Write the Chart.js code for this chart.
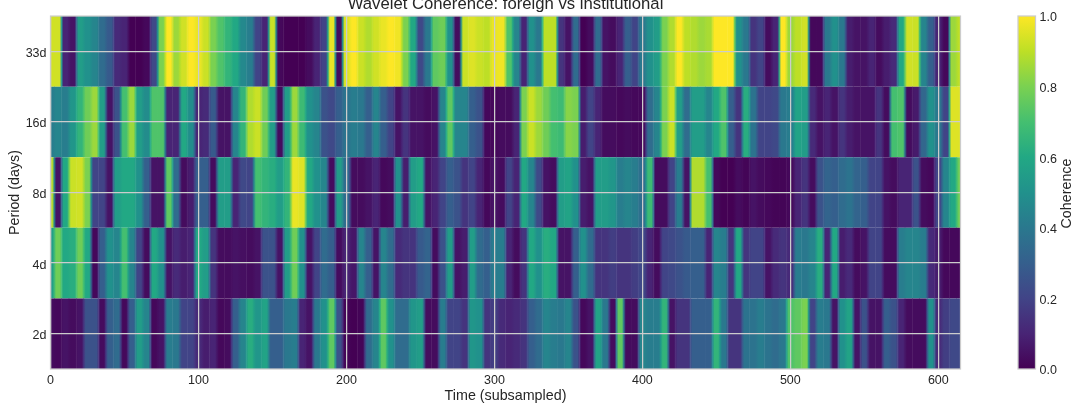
<!DOCTYPE html>
<html><head><meta charset="utf-8">
<script src="https://cdn.jsdelivr.net/npm/chart.js@4/dist/chart.umd.min.js"></script>
<style>
html,body{margin:0;padding:0;background:#fff;overflow:hidden}
#wrap{position:relative;width:1080px;height:411px}
</style></head><body>
<div id="wrap">
<div style="position:absolute;left:0;top:0;width:1000px;height:411px"><canvas id="main"></canvas></div>
<div style="position:absolute;left:1000px;top:0;width:80px;height:411px"><canvas id="bar"></canvas></div>
</div>
<script>
const periodLabels = ['2d','4d','8d','16d','33d'];
const timeStep = 5;
const p2 = [.03,.02,.05,.03,.05,.25,.25,.03,.3,.35,.02,.3,.55,.45,.02,.05,.42,.4,.2,.2,
.12,.08,.1,.02,.03,.3,.45,.62,.52,.58,.3,.3,.4,.42,.1,.05,.4,.5,.75,.25,
.01,0,.01,.35,.45,.75,.5,.35,.35,.52,.55,.03,.03,.42,.2,.2,.15,.52,.5,.15,
.18,.12,.1,.12,.15,.3,.35,.45,.42,.4,.45,.25,.02,.05,.58,.4,.03,.75,.03,.03,
.45,.42,.42,.65,.05,.15,.15,.3,.3,.3,.65,.4,.15,.15,.38,.38,.42,.38,.35,.4,
.72,.75,.8,.2,.42,.4,.05,.5,.58,.05,.25,.05,.05,.3,.25,.1,.03,.03,.03,.5,
.12,.18,.22,.22];
const p4 = [.55,.78,.6,.62,.78,.6,.02,.3,.5,.45,.7,.45,.2,.03,.6,.5,.05,.12,.08,.1,
.6,.55,.15,.03,.03,.05,.04,.03,.05,.25,.25,.05,.55,.78,.5,.05,.2,.35,.3,.03,
.1,.06,.45,.3,.05,.45,.35,.12,.15,.15,.28,.32,.03,.25,.55,.05,.08,.55,.35,.3,
.42,.42,.1,.03,.15,.6,.5,.62,.6,.05,.05,.3,.5,.35,.15,.15,.18,.15,.15,.18,
.22,.1,.03,.2,.22,.25,.28,.3,.3,.1,.45,.42,.15,.6,.15,.2,.2,.05,.12,.15,
.12,.42,.4,.45,.62,.1,.6,.08,.12,.03,.05,.2,.2,.03,.03,.42,.45,.45,.42,.12,
.08,.02,.02,.02];
const p8 = [.9,.05,.6,.92,.93,.8,.2,.2,.05,.55,.6,.6,.5,.3,.05,.05,.75,.35,.03,.08,
.3,.3,.03,.55,.55,.1,.22,.2,.7,.65,.62,.55,.65,.97,.95,.6,.5,.45,.03,.55,
.35,.03,.03,.05,.1,.02,.03,.5,.08,.55,.6,.05,.1,.2,.3,.25,.15,.2,.1,.02,
.05,.03,.2,.1,.6,.45,.22,.05,.03,.55,.58,.5,.08,.05,.55,.55,.52,.42,.45,.42,
.35,.68,.03,.03,.2,.42,.05,.88,.88,.7,.02,0,0,.03,.01,.05,.03,.02,.01,.01,
.02,.1,.15,.03,.25,.32,.3,.35,.38,.32,.3,.2,.2,.05,.03,.1,.1,.25,.03,.02,
.2,.45,.6,.78];
const p16 = [.42,.45,.42,.52,.65,.78,.85,.55,.05,.25,.7,.85,.55,.48,.72,.72,.1,.1,.6,.48,
.1,.12,.28,.05,.05,.45,.65,.88,.92,.78,.55,.03,.55,.85,.68,.5,.45,.25,.22,.3,
.38,.42,.4,.3,.45,.3,.2,.05,.15,.05,.05,.03,.05,.45,.75,.45,.45,.3,.25,.02,
.02,.03,.03,.1,.8,.92,.85,.78,.7,.68,.82,.8,.08,.2,.1,.03,.03,.02,.03,.02,
.02,.35,.45,.8,.92,.55,.35,.55,.55,.45,.6,.72,.3,.15,.62,.38,.2,.2,.22,.4,
.42,.58,.55,.12,.05,.1,.05,.15,.08,.05,.05,.05,.15,.03,.7,.72,.03,.07,.33,.5,
.4,.2,.95,.95];
const p33 = [.93,.93,.1,.05,.55,.5,.45,.35,.28,.12,.1,0,0,.02,.22,.8,1,.85,.93,1,
.97,.92,.8,.72,.65,.6,.47,.42,.2,.1,.92,.02,0,0,0,.03,.1,.2,.97,.03,
.95,1,.92,.88,.93,.97,1,.98,.8,.6,.22,.4,.75,.78,.5,.03,.92,.95,.92,.9,
.97,.98,.72,.45,.1,.5,.4,.9,.9,.15,.05,.35,0,.03,.35,.05,.03,.1,.3,.2,
.4,.5,.55,.8,.88,1,.9,.88,.85,.87,1,1,1,.5,.4,.15,.2,.03,.1,1,
.85,.9,.93,.02,.02,.4,.5,.4,.08,.05,.05,.1,.03,.08,.12,.6,.93,.92,.45,.3,
.1,.02,.85,.9];
const rows = [p2,p4,p8,p16,p33];
const viridisStops = ['#440154','#482475','#414487','#355f8d','#2a788e','#21918c','#22a884','#44bf70','#7ad151','#bddf26','#fde725'];

function hex(c){return [1,3,5].map(i=>parseInt(c.substr(i,2),16));}
function viridis(v){
  v=Math.max(0,Math.min(1,v));
  const p=v*(viridisStops.length-1), i=Math.min(Math.floor(p),viridisStops.length-2), f=p-i;
  const a=hex(viridisStops[i]), b=hex(viridisStops[i+1]);
  return 'rgb('+a.map((x,k)=>Math.round(x+(b[k]-x)*f)).join(',')+')';
}
const GRID='#cccccc', TXT='#262626', FONT='"Liberation Sans", Arial, sans-serif';
Chart.defaults.font.family=FONT;
Chart.defaults.animation=false;

const frame={id:'frame',afterDatasetsDraw(c){
  const a=c.chartArea,x=c.ctx;x.save();x.strokeStyle=GRID;x.lineWidth=1.25;
  x.strokeRect(a.left,a.top,a.right-a.left,a.bottom-a.top);x.restore();}};

const datasets=rows.map((vals,r)=>({
  label:periodLabels[r],
  data:vals.map((v,i)=>({x:i*timeStep,y:[r-.5,r+.5]})),
  backgroundColor(ctx){
    if(ctx.dataIndex===undefined) return viridis(0);
    const s=ctx.chart.scales.x,i=ctx.dataIndex,v=vals[i];
    if(!s||!ctx.chart.chartArea) return viridis(v);
    const prev=i>0?vals[i-1]:v,next=i<vals.length-1?vals[i+1]:v;
    const g=ctx.chart.ctx.createLinearGradient(s.getPixelForValue((i-.5)*timeStep),0,s.getPixelForValue((i+.5)*timeStep),0);
    g.addColorStop(0,viridis((prev+v)/2));g.addColorStop(.25,viridis(v));
    g.addColorStop(.75,viridis(v));g.addColorStop(1,viridis((next+v)/2));
    return g;
  },
  borderWidth:0,barPercentage:1.06,categoryPercentage:1,grouped:false
}));

new Chart(document.getElementById('main'),{
  type:'bar',
  data:{datasets},
  plugins:[frame],
  options:{
    responsive:true,maintainAspectRatio:false,devicePixelRatio:1,
    layout:{padding:{left:0,right:39.5,top:0,bottom:0}},
    plugins:{legend:{display:false},tooltip:{enabled:false},
      title:{display:true,fullSize:false,text:'Wavelet Coherence: foreign vs institutional',color:TXT,
        font:{size:16.7,weight:'normal'},padding:{top:-6,bottom:2}}},
    scales:{
      x:{type:'linear',offset:false,min:0,max:615,
        grid:{color:GRID,lineWidth:1.25,z:1,drawTicks:false,offset:false},border:{display:false},
        ticks:{stepSize:100,includeBounds:false,color:TXT,font:{size:12.5},padding:4,maxRotation:0,autoSkip:false},
        title:{display:true,text:'Time (subsampled)',color:TXT,font:{size:14.3},padding:{top:0,bottom:6}},
        afterFit(s){s.height=42;}},
      y:{type:'linear',min:-.5,max:4.5,
        grid:{color:GRID,lineWidth:1.25,z:1,drawTicks:false},border:{display:false},
        afterBuildTicks(s){s.ticks=periodLabels.map((_,i)=>({value:i}));},
        ticks:{color:TXT,font:{size:12.5},padding:4,labelOffset:2,callback(v){return periodLabels[v];}},
        title:{display:true,text:'Period (days)',color:TXT,font:{size:14.3},padding:{top:6,bottom:0}},
        afterFit(s){s.width=50.5;}}
    }
  }
});

const cbLabels=['Coherence'];
const coherenceRange=[0,1];
const cbTitle={id:'cbTitle',afterDraw(c){
  const x=c.ctx;x.save();x.fillStyle=TXT;x.font='14.3px '+FONT;x.textAlign='center';x.textBaseline='middle';
  x.translate(67,(c.chartArea.top+c.chartArea.bottom)/2+1);x.rotate(-Math.PI/2);x.fillText(cbLabels[0],0,0);x.restore();}};
new Chart(document.getElementById('bar'),{
  type:'bar',
  data:{labels:cbLabels,datasets:[{data:[coherenceRange],
    backgroundColor(ctx){
      const a=ctx.chart.chartArea;if(!a) return viridis(0);
      const g=ctx.chart.ctx.createLinearGradient(0,a.bottom,0,a.top);
      viridisStops.forEach((c,i)=>g.addColorStop(i/(viridisStops.length-1),c));
      return g;},
    borderWidth:0,barPercentage:1,categoryPercentage:1}]},
  plugins:[frame,cbTitle],
  options:{
    responsive:true,maintainAspectRatio:false,devicePixelRatio:1,
    layout:{padding:{left:18,right:0,top:16,bottom:42}},
    plugins:{legend:{display:false},tooltip:{enabled:false}},
    scales:{
      x:{display:false},
      y:{position:'right',min:0,max:1,grid:{display:false,drawTicks:false},border:{display:false},
        ticks:{stepSize:.2,color:TXT,font:{size:12.5},padding:4,labelOffset:2,callback(v){return Number(v).toFixed(1);}},
        afterFit(s){s.width=44.5;}}
    }
  }
});
</script>
</body></html>
